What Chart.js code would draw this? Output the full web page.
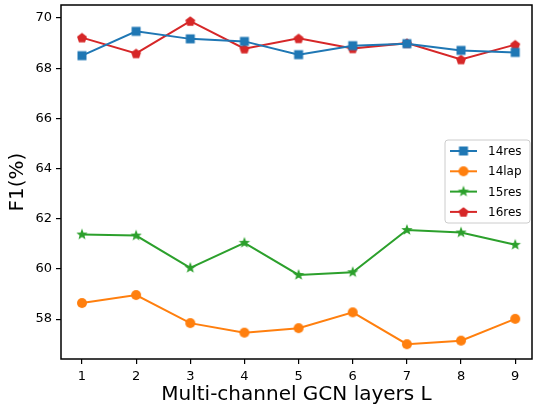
<!DOCTYPE html>
<html lang="en">
<head>
<meta charset="UTF-8" />
<title>F1 - GCN layers</title>
<style>
  body{ margin:0; background:#fff; }
  canvas{ display:block; }
</style>
</head>
<body>
<canvas id="f1" width="533" height="412"></canvas>
<script src="https://cdn.jsdelivr.net/npm/chart.js"></script>
<script>
const layers = [1, 2, 3, 4, 5, 6, 7, 8, 9];
const res14 = [68.50, 69.47, 69.17, 69.07, 68.54, 68.90, 68.98, 68.71, 68.63];
const lap14 = [58.64, 58.96, 57.84, 57.46, 57.64, 58.27, 57.00, 57.14, 58.01];
const res15 = [61.37, 61.33, 60.04, 61.04, 59.76, 59.87, 61.55, 61.45, 60.96];
const res16 = [69.22, 68.59, 69.88, 68.78, 69.19, 68.79, 69.00, 68.35, 68.94];
const yTicks = [58, 60, 62, 64, 66, 68, 70];
const seriesNames = ['14res', '14lap', '15res', '16res'];

const FONT = "'DejaVu Sans', sans-serif";

// marker images (matplotlib style s, o, *, p)
function makeMarker(shape, color) {
  const c = document.createElement('canvas');
  c.width = 14; c.height = 14;
  const g = c.getContext('2d');
  const cx = 7, cy = 7;
  g.fillStyle = color;
  g.beginPath();
  if (shape === 'square') {
    g.rect(cx - 4.5, cy - 4.5, 9, 9);
  } else if (shape === 'circle') {
    g.arc(cx, cy, 5, 0, Math.PI * 2);
  } else if (shape === 'star') {
    for (let i = 0; i < 10; i++) {
      const r = i % 2 === 0 ? 6 : 2.5;
      const a = -Math.PI / 2 + i * Math.PI / 5;
      g.lineTo(cx + r * Math.cos(a), cy + r * Math.sin(a));
    }
  } else if (shape === 'pentagon') {
    for (let i = 0; i < 5; i++) {
      const a = -Math.PI / 2 + i * 2 * Math.PI / 5;
      g.lineTo(cx + 5.2 * Math.cos(a), cy + 0.5 + 5.2 * Math.sin(a));
    }
  }
  g.closePath();
  g.fill();
  return c;
}

const colors = ['#1f77b4', '#ff7f0e', '#2ca02c', '#d62728'];
const shapes = ['square', 'circle', 'star', 'pentagon'];
const values = [res14, lap14, res15, res16];

const datasets = values.map((vals, i) => ({
  label: seriesNames[i],
  data: layers.map((l, j) => ({ x: l, y: vals[j] })),
  borderColor: colors[i],
  backgroundColor: colors[i],
  borderWidth: 2,
  pointStyle: makeMarker(shapes[i], colors[i]),
  tension: 0
}));

const frameAndLegend = {
  id: 'frameAndLegend',
  afterDatasetsDraw(chart) {
    const ctx = chart.ctx;
    const a = chart.chartArea;
    ctx.save();
    ctx.strokeStyle = '#000';
    ctx.lineWidth = 1.5;
    ctx.strokeRect(a.left, a.top, a.right - a.left, a.bottom - a.top);

    // legend box
    const bx = 445, by = 140, bw = 85, bh = 83, r = 3;
    ctx.beginPath();
    ctx.moveTo(bx + r, by);
    ctx.arcTo(bx + bw, by, bx + bw, by + bh, r);
    ctx.arcTo(bx + bw, by + bh, bx, by + bh, r);
    ctx.arcTo(bx, by + bh, bx, by, r);
    ctx.arcTo(bx, by, bx + bw, by, r);
    ctx.closePath();
    ctx.fillStyle = 'rgba(255,255,255,0.8)';
    ctx.fill();
    ctx.strokeStyle = '#cccccc';
    ctx.lineWidth = 1;
    ctx.stroke();

    ctx.font = '12px ' + FONT;
    ctx.textBaseline = 'middle';
    chart.data.datasets.forEach((ds, i) => {
      const yy = 151 + i * 20.3;
      ctx.strokeStyle = ds.borderColor;
      ctx.lineWidth = 2;
      ctx.beginPath();
      ctx.moveTo(450, yy);
      ctx.lineTo(477, yy);
      ctx.stroke();
      ctx.drawImage(ds.pointStyle, 463.5 - 7, yy - 7);
      ctx.fillStyle = '#000';
      ctx.fillText(ds.label, 488, yy + 1);
    });
    ctx.restore();
  }
};

new Chart(document.getElementById('f1'), {
  type: 'line',
  data: { datasets },
  options: {
    responsive: false,
    animation: false,
    layout: { autoPadding: false, padding: { top: 5, right: 1, left: 0, bottom: 0 } },
    plugins: { legend: { display: false }, tooltip: { enabled: false } },
    scales: {
      x: {
        type: 'linear',
        min: 0.613,
        max: 9.31,
        afterBuildTicks: axis => { axis.ticks = layers.map(v => ({ value: v })); },
        afterFit: axis => { axis.height = 53; axis.paddingLeft = 0; axis.paddingRight = 0; },
        border: { display: false },
        grid: { drawOnChartArea: false, drawTicks: true, tickLength: 5, color: '#000', lineWidth: 1.2 },
        ticks: { color: '#000', font: { family: FONT, size: 13 }, padding: 5, maxRotation: 0 },
        title: { display: true, text: 'Multi-channel GCN layers L', color: '#000', font: { family: FONT, size: 20 }, padding: { top: 0, bottom: 5 } }
      },
      y: {
        min: 56.41,
        max: 70.52,
        afterBuildTicks: axis => { axis.ticks = yTicks.map(v => ({ value: v })); },
        afterFit: axis => { axis.width = 61; axis.paddingTop = 0; axis.paddingBottom = 0; },
        border: { display: false },
        grid: { drawOnChartArea: false, drawTicks: true, tickLength: 5, color: '#000', lineWidth: 1.2 },
        ticks: { color: '#000', font: { family: FONT, size: 13 }, padding: 4 },
        title: { display: true, text: 'F1(%)', color: '#000', font: { family: FONT, size: 20 }, padding: { top: 6, bottom: 0 } }
      }
    }
  },
  plugins: [frameAndLegend]
});
</script>
</body>
</html>
